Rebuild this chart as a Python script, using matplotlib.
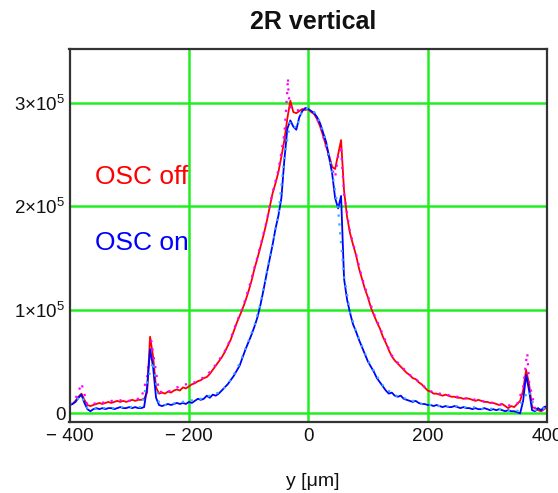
import numpy as np
import matplotlib
matplotlib.use("Agg")
import matplotlib.pyplot as plt

plt.rcParams['font.family'] = ['Liberation Sans', 'DejaVu Sans']
plt.rcParams['mathtext.fontset'] = 'custom'
plt.rcParams['mathtext.rm'] = 'Liberation Sans'
plt.rcParams['mathtext.it'] = 'Liberation Sans:italic'
plt.rcParams['mathtext.bf'] = 'Liberation Sans:bold'

# ---------------- data (intensity in units of 1e5) ----------------
y_pos = np.arange(-400, 401, 5)  # µm

osc_off = [
    0.08, 0.09, 0.12, 0.16, 0.19, 0.13, 0.08, 0.07, 0.08, 0.09,   # -400..-355
    0.10, 0.09, 0.10, 0.11, 0.10, 0.11, 0.12, 0.11, 0.12, 0.11,   # -350..-305
    0.12, 0.13, 0.12, 0.13, 0.13, 0.14, 0.20, 0.74, 0.55, 0.25,   # -300..-255
    0.19, 0.20, 0.19, 0.21, 0.20, 0.22, 0.23, 0.22, 0.25, 0.24,   # -250..-205
    0.26, 0.28, 0.29, 0.31, 0.32, 0.34, 0.35, 0.38, 0.42, 0.46,   # -200..-155
    0.50, 0.54, 0.59, 0.65, 0.71, 0.79, 0.87, 0.94, 1.01, 1.09,   # -150..-105
    1.18, 1.28, 1.40, 1.50, 1.61, 1.72, 1.84, 1.98, 2.12, 2.22,   # -100..-55
    2.33, 2.48, 2.64, 2.85, 3.02, 2.91, 2.90, 2.92, 2.94, 2.93,   # -50..-5
    2.94, 2.91, 2.89, 2.84, 2.77, 2.68, 2.58, 2.49, 2.38, 2.36,   # 0..45
    2.50, 2.64, 2.15, 1.90, 1.74, 1.63, 1.53, 1.40, 1.30, 1.20,   # 50..95
    1.12, 1.02, 0.95, 0.88, 0.82, 0.74, 0.68, 0.61, 0.55, 0.51,   # 100..145
    0.48, 0.45, 0.42, 0.39, 0.37, 0.34, 0.33, 0.30, 0.28, 0.25,   # 150..195
    0.22, 0.21, 0.19, 0.19, 0.18, 0.17, 0.18, 0.17, 0.16, 0.16,   # 200..245
    0.15, 0.15, 0.14, 0.145, 0.14, 0.13, 0.12, 0.13, 0.12, 0.11,  # 250..295
    0.11, 0.10, 0.10, 0.09, 0.08, 0.09, 0.07, 0.05, 0.07, 0.06,   # 300..345
    0.09, 0.12, 0.22, 0.42, 0.28, 0.06, 0.05, 0.03, 0.02, 0.04,   # 350..395
    0.06,                                                         # 400
]

osc_on = [
    0.08, 0.09, 0.11, 0.15, 0.18, 0.10, 0.04, 0.02, 0.04, 0.05,   # -400..-355
    0.04, 0.05, 0.04, 0.05, 0.05, 0.04, 0.05, 0.06, 0.05, 0.05,   # -350..-305
    0.06, 0.05, 0.06, 0.05, 0.05, 0.06, 0.25, 0.62, 0.45, 0.15,   # -300..-255
    0.08, 0.07, 0.08, 0.09, 0.08, 0.09, 0.10, 0.09, 0.10, 0.09,   # -250..-205
    0.11, 0.10, 0.12, 0.14, 0.13, 0.14, 0.17, 0.15, 0.18, 0.17,   # -200..-155
    0.19, 0.22, 0.25, 0.28, 0.32, 0.36, 0.41, 0.46, 0.54, 0.62,   # -150..-105
    0.69, 0.76, 0.84, 0.93, 1.05, 1.19, 1.34, 1.48, 1.62, 1.78,   # -100..-55
    1.91, 2.08, 2.45, 2.75, 2.83, 2.77, 2.74, 2.86, 2.92, 2.95,   # -50..-5
    2.94, 2.92, 2.90, 2.86, 2.80, 2.71, 2.62, 2.47, 2.32, 2.08,   # 0..45
    1.98, 2.10, 1.30, 1.10, 0.97, 0.86, 0.79, 0.71, 0.64, 0.57,   # 50..95
    0.50, 0.45, 0.40, 0.34, 0.30, 0.26, 0.22, 0.19, 0.20, 0.17,   # 100..145
    0.16, 0.17, 0.14, 0.13, 0.12, 0.11, 0.12, 0.10, 0.09, 0.09,   # 150..195
    0.08, 0.08, 0.07, 0.08, 0.07, 0.06, 0.07, 0.06, 0.06, 0.07,   # 200..245
    0.06, 0.05, 0.06, 0.05, 0.05, 0.04, 0.05, 0.04, 0.04, 0.05,   # 250..295
    0.04, 0.03, 0.04, 0.03, 0.04, 0.03, 0.02, 0.03, 0.02, 0.02,   # 300..345
    0.01, 0.00, 0.12, 0.37, 0.22, 0.03, 0.02, 0.05, 0.03, 0.06,   # 350..395
    0.07,                                                         # 400
]

# second (dotted) traces
off_dot_x = [-400, -390, -383, -380, -370, -360, -350, -340, -330, -320, -310,
             -300, -290, -280, -270, -263, -250, -240, -230, -220, -210,
             -200, -190, -180, -170, -160, -150, -140, -130, -120, -110,
             -100, -90, -80, -70, -60, -50, -40, -35, -34, -33, -30, -20,
             -10, 0, 10, 20, 30, 40, 45, 50, 55, 60, 70, 80, 90, 100, 110,
             120, 130, 140, 150, 160, 170, 180, 190, 200, 210, 220, 230,
             240, 250, 260, 270, 280, 290, 300, 310, 320, 330, 340, 350,
             360, 365, 367, 370, 380, 390, 400]
off_dot_v = [0.09, 0.14, 0.24, 0.29, 0.08, 0.09, 0.11, 0.10, 0.12, 0.12, 0.13,
             0.12, 0.14, 0.14, 0.35, 0.70, 0.21, 0.20, 0.22, 0.25, 0.27,
             0.29, 0.30, 0.33, 0.37, 0.43, 0.51, 0.60, 0.72, 0.88, 1.02,
             1.20, 1.41, 1.62, 1.85, 2.13, 2.35, 2.70, 3.12, 3.24, 3.08, 2.96, 2.92,
             2.95, 2.94, 2.90, 2.78, 2.57, 2.36, 2.28, 2.48, 2.55, 2.12, 1.75, 1.54, 1.31, 1.13, 0.96,
             0.83, 0.69, 0.56, 0.49, 0.43, 0.37, 0.33, 0.28, 0.23, 0.20, 0.19, 0.18,
             0.17, 0.16, 0.14, 0.15, 0.13, 0.12, 0.11, 0.10, 0.09, 0.07, 0.08, 0.09,
             0.25, 0.50, 0.58, 0.30, 0.05, 0.02, 0.06]

on_dot_x = list(range(-400, 401, 10))
on_dot_v = [0.09, 0.12, 0.17, 0.05, 0.04, 0.05, 0.05, 0.05, 0.05, 0.06,
            0.06, 0.06, 0.06, 0.30, 0.50, 0.09, 0.08, 0.09, 0.10, 0.11,
            0.12, 0.13, 0.14, 0.16, 0.18, 0.20, 0.25, 0.32, 0.42, 0.55,
            0.70, 0.85, 1.06, 1.35, 1.63, 1.92, 2.48, 2.82, 2.75, 2.93,
            2.95, 2.91, 2.81, 2.63, 2.33, 1.97, 1.32, 0.98, 0.79, 0.65,
            0.51, 0.41, 0.31, 0.23, 0.20, 0.16, 0.15, 0.12, 0.12, 0.09,
            0.09, 0.07, 0.07, 0.07, 0.06, 0.07, 0.06, 0.05, 0.06, 0.04,
            0.05, 0.04, 0.04, 0.03, 0.02, 0.02, 0.14, 0.22, 0.03, 0.03, 0.07]

xticks = [-400, -200, 0, 200, 400]
xtick_labels = ['\u2212 400', '\u2212 200', '0', '200', '400']
yticks = [0, 1e5, 2e5, 3e5]
ytick_labels = ['0', r'$1{\times}10^{5}$', r'$2{\times}10^{5}$', r'$3{\times}10^{5}$']

SCALE = 1e5

# ---------------- figure ----------------
fig = plt.figure(figsize=(5.58, 4.93), dpi=100)
ax = fig.add_axes([69.5 / 558, 1 - 422.3 / 493, (547 - 69.5) / 558, (422.3 - 49.3) / 493])

ax.plot(y_pos, np.array(osc_off) * SCALE, color='#ff0000', lw=1.3, zorder=3)
ax.plot(off_dot_x, np.array(off_dot_v) * SCALE, color='#ff00ff', lw=1.6,
        ls=(0, (1, 3)), zorder=4)
ax.plot(y_pos, np.array(osc_on) * SCALE, color='#0000ff', lw=1.3, zorder=5)
ax.plot(on_dot_x, np.array(on_dot_v) * SCALE, color='#33aaff', lw=1.6,
        ls=(0, (1, 3)), zorder=6)

ax.set_xlim(-400, 400)
ax.set_ylim(-8700, 3.517e5)
ax.set_xticks(xticks)
ax.set_xticklabels(xtick_labels)
ax.set_yticks(yticks)
ax.set_yticklabels(ytick_labels)
ax.tick_params(length=0, labelsize=13.5, pad=4, colors='#111111')
ax.tick_params(axis='y', pad=3)

ax.grid(True, color='#22ee22', lw=1.8, zorder=1)
ax.set_axisbelow(True)
for s in ax.spines.values():
    s.set_color('#333333')
    s.set_linewidth(1.6)
    s.set_zorder(10)

ax.text(-357, 2.22e5, 'OSC off', color='#ff0000', fontsize=19, va='baseline', ha='left')
ax.text(-357, 1.58e5, 'OSC on', color='#0000ff', fontsize=19, va='baseline', ha='left')

fig.text(313.5 / 558, 1 - 22 / 493, '2R vertical', fontsize=18, fontweight='bold',
         ha='center', va='center', color='#111111')
fig.text(313 / 558, 1 - 481 / 493, 'y [\u03bcm]', fontsize=14, ha='center',
         va='center', color='#111111')

fig.savefig('out.png', dpi=100)
